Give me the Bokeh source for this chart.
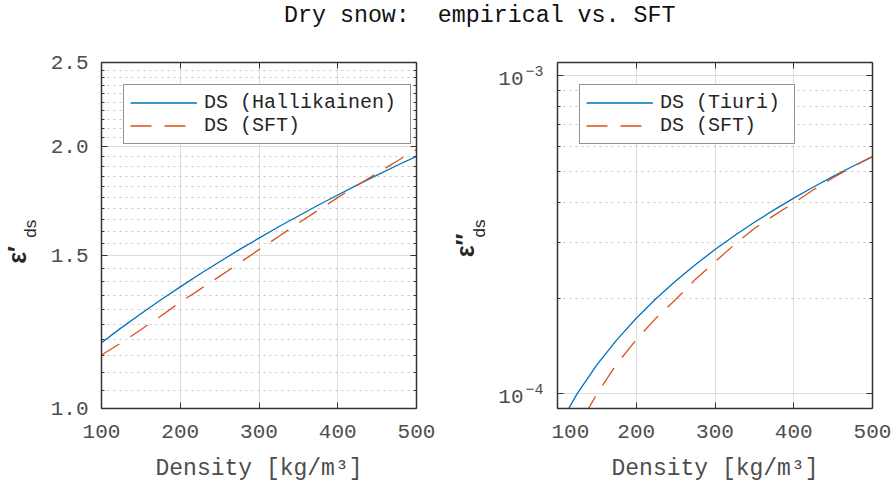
import math
from bokeh.plotting import figure
from bokeh.models import (Range1d, FixedTicker, LinearAxis, LogAxis,
                          Legend, LegendItem, Div)
from bokeh.core.properties import value
from bokeh.layouts import column, row
from bokeh.embed import file_html
from bokeh.resources import INLINE

# ---------------- data ----------------
density = [100, 125, 150, 175, 200, 225, 250, 275, 300, 325, 350, 375, 400, 425, 450, 475, 500]

eps_real_hallikainen = [1.190, 1.238, 1.285, 1.333, 1.380, 1.428, 1.475, 1.523, 1.570,
                        1.618, 1.665, 1.713, 1.760, 1.808, 1.855, 1.903, 1.950]
eps_real_sft = [1.152, 1.190, 1.232, 1.277, 1.325, 1.371, 1.419, 1.470, 1.523,
                1.577, 1.634, 1.690, 1.748, 1.806, 1.865, 1.925, 1.985]

eps_imag_tiuri = [0.781e-4, 1.002e-4, 1.234e-4, 1.476e-4, 1.729e-4, 1.991e-4, 2.265e-4,
                  2.548e-4, 2.842e-4, 3.147e-4, 3.462e-4, 3.787e-4, 4.123e-4, 4.469e-4,
                  4.825e-4, 5.192e-4, 5.570e-4]
eps_imag_sft = [0.55e-4, 0.78e-4, 1.00e-4, 1.24e-4, 1.48e-4, 1.73e-4, 1.98e-4, 2.29e-4,
                2.60e-4, 2.95e-4, 3.31e-4, 3.64e-4, 3.98e-4, 4.38e-4, 4.78e-4, 5.17e-4, 5.57e-4]

x_ticks = [100, 200, 300, 400, 500]
x_tick_labels = ["100", "200", "300", "400", "500"]

left_y_ticks = [1.0, 1.5, 2.0, 2.5]
left_y_tick_labels = ["1.0", "1.5", "2.0", "2.5"]
left_y_minor = [round(1.0 + 0.05 * i, 2) for i in range(1, 30) if i % 10 != 0]

right_y_ticks = [1e-4, 1e-3]
right_y_tick_base = ["10", "10"]
right_y_tick_exp = ["\u22124", "\u22123"]
right_y_minor = [k * 1e-4 for k in range(2, 10)]

title_text = "Dry snow:  empirical vs. SFT"
x_label = "Density [kg/m\u00b3]"
left_y_label = ["\u03b5\u2032", "ds"]
right_y_label = ["\u03b5\u2033", "ds"]
legend_left = ["DS (Hallikainen)", "DS (SFT)"]
legend_right = ["DS (Tiuri)", "DS (SFT)"]

# ---------------- style ----------------
BLUE = "#0072BD"
ORANGE = "#D95319"
AX = "#333333"
TXT = "#4d4d4d"
MONO = "Liberation Mono"
SANS = "Liberation Sans"
DASH = "21 13"
H = 447
TOP, BOTTOM = 22, 79


def style_axis(ax, show_labels):
    ax.axis_line_color = AX
    ax.axis_line_width = 1.5
    ax.major_tick_in = 6
    ax.major_tick_out = 0
    ax.minor_tick_in = 3
    ax.minor_tick_out = 0
    ax.major_tick_line_color = AX
    ax.minor_tick_line_color = AX
    ax.major_label_text_font = MONO
    ax.major_label_text_color = TXT
    if show_labels:
        ax.major_label_text_font_size = "21px"
        ax.major_label_standoff = 13
    else:
        ax.major_label_text_font_size = "1px"
        ax.major_label_text_alpha = 0.0
        ax.major_label_standoff = 0


def make_panel(y_vals_a, y_vals_b, y_range, y_ticks, y_tick_labels, y_minor,
               labels, width, min_left, min_right, legend_label_width, show_y_labels):
    p = figure(width=width, height=H, x_range=Range1d(100, 500), y_range=y_range,
               y_axis_type="log", output_backend="svg", toolbar_location=None,
               min_border_left=min_left, min_border_right=min_right,
               min_border_top=TOP, min_border_bottom=BOTTOM)
    p.outline_line_color = None
    p.background_fill_color = "white"

    xt = FixedTicker(ticks=x_ticks, minor_ticks=[])
    yt = FixedTicker(ticks=y_ticks, minor_ticks=y_minor)

    p.xaxis.ticker = xt
    p.xaxis.major_label_overrides = dict(zip(x_ticks, x_tick_labels))
    p.yaxis.ticker = yt
    if y_tick_labels is not None:
        p.yaxis.major_label_overrides = dict(zip(y_ticks, y_tick_labels))
    style_axis(p.xaxis[0], True)
    p.xaxis.major_label_standoff = 16
    style_axis(p.yaxis[0], show_y_labels)
    p.xaxis.axis_label = x_label
    p.xaxis.axis_label_text_font = MONO
    p.xaxis.axis_label_text_font_size = "23px"
    p.xaxis.axis_label_text_font_style = "normal"
    p.xaxis.axis_label_text_color = TXT
    p.xaxis.axis_label_standoff = 15

    top = LinearAxis(ticker=xt)
    style_axis(top, False)
    p.add_layout(top, "above")
    right = LogAxis(ticker=yt)
    style_axis(right, False)
    p.add_layout(right, "right")

    p.xgrid.ticker = xt
    p.ygrid.ticker = yt
    p.xgrid.grid_line_color = "#dedede"
    p.ygrid.grid_line_color = "#dedede"
    p.ygrid.minor_grid_line_color = "#c4c4c4"
    p.ygrid.minor_grid_line_dash = "2 4"

    r1 = p.line(density, y_vals_a, line_color=BLUE, line_width=1.3)
    r2 = p.line(density, y_vals_b, line_color=ORANGE, line_width=1.3, line_dash=DASH)

    leg = Legend(items=[LegendItem(label=labels[0], renderers=[r1]),
                        LegendItem(label=labels[1], renderers=[r2])],
                 location="top_left", margin=22, padding=6, spacing=0,
                 glyph_width=67, glyph_height=23, label_height=23,
                 label_width=legend_label_width, label_standoff=7,
                 border_line_color="#262626", border_line_width=1,
                 background_fill_color="white", background_fill_alpha=1.0,
                 label_text_font=MONO, label_text_font_size="20px",
                 label_text_color="#262626")
    p.add_layout(leg)
    return p


def label_figure(width, y_range):
    f = figure(width=width, height=H, x_range=Range1d(0, width), y_range=y_range,
               y_axis_type="log", x_axis_location=None, y_axis_location=None,
               output_backend="svg", toolbar_location=None,
               min_border_left=0, min_border_right=0,
               min_border_top=TOP, min_border_bottom=BOTTOM)
    f.outline_line_color = None
    f.grid.visible = False
    return f


def add_eps_label(f, texts, x_eps, y_eps, x_sub, y_sub):
    f.text(x=[x_eps], y=[y_eps], text=[texts[0]], angle=math.pi / 2,
           text_align="center", text_baseline="middle",
           text_font=value(SANS), text_font_style="bold",
           text_font_size="25px", text_color="#262626")
    f.text(x=[x_sub], y=[y_sub], text=[texts[1]], angle=math.pi / 2,
           text_align="center", text_baseline="middle",
           text_font=value(SANS), text_font_size="17px", text_color="#262626")


left_range = Range1d(1.0, 2.5)
right_range = Range1d(0.9e-4, 1.1e-3)

p1 = make_panel(eps_real_hallikainen, eps_real_sft, left_range,
                left_y_ticks, left_y_tick_labels, left_y_minor,
                legend_left, 404, 57, 32, 200, True)
p2 = make_panel(eps_imag_tiuri, eps_imag_sft, right_range,
                right_y_ticks, None, right_y_minor,
                legend_right, 343, 6, 22, 128, False)

lf1 = label_figure(44, left_range)
add_eps_label(lf1, left_y_label, 16, 1.502, 30, 1.61)

lf2 = label_figure(103, right_range)
add_eps_label(lf2, right_y_label, 16, 2.93e-4, 31, 3.31e-4)
# right panel tick labels: "10" with superscript exponent, placed on the log scale
lf2.text(x=[75] * len(right_y_ticks), y=right_y_ticks, text=right_y_tick_base,
         text_align="right", text_baseline="middle", y_offset=3,
         text_font=value(MONO), text_font_size="21px", text_color=TXT)
lf2.text(x=[77] * len(right_y_ticks), y=right_y_ticks, text=right_y_tick_exp,
         text_align="left", text_baseline="middle", y_offset=-5,
         text_font=value(MONO), text_font_size="15px", text_color=TXT)

title = Div(text='<div style="margin-left:284px; margin-top:3px; white-space:pre; '
                 'font-family:\'Liberation Mono\'; font-size:23.3px; line-height:26px; '
                 'color:#111111;">' + title_text + '</div>',
            width=896, height=40, margin=0)

layout = column(title, row(lf1, p1, lf2, p2, spacing=0), spacing=0)
open("out.html", "w").write(file_html(layout, INLINE))
